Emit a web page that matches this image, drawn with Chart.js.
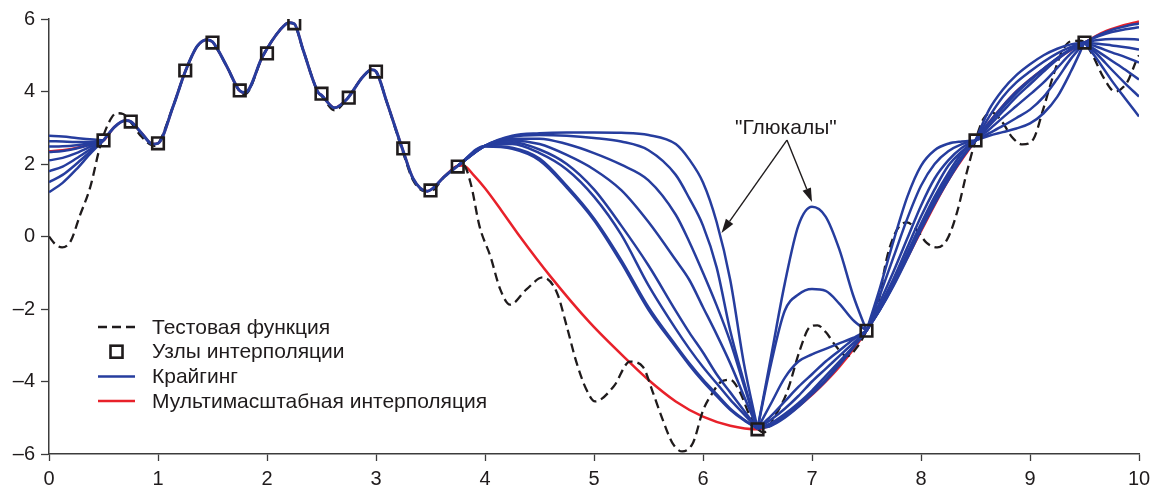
<!DOCTYPE html>
<html>
<head>
<meta charset="utf-8">
<script src="https://cdn.jsdelivr.net/npm/chart.js@4.4.1/dist/chart.umd.min.js"></script>
<style>
  html, body { margin: 0; padding: 0; background: #fff; }
  #wrap { width: 1157px; height: 492px; }
</style>
</head>
<body>
<div id="wrap"><canvas id="c" width="1157" height="492"></canvas></div>
<script>
// axis ticks
const xTicks = [0, 1, 2, 3, 4, 5, 6, 7, 8, 9, 10];
const yTicks = [-6, -4, -2, 0, 2, 4, 6];

const legendLabels = ['Тестовая функция', 'Узлы интерполяции', 'Крайгинг', 'Мультимасштабная интерполяция'];
const glitchText = '"Глюкалы"';
const glitchFrom = [6.77, 2.66];
const glitchTips = [[6.17, 0.1], [7.0, 0.95]];
const glitchLabelAt = [6.76, 3.0];

// interpolation nodes
const nodeX = [0.5, 0.75, 1.0, 1.25, 1.5, 1.75, 2.0, 2.25, 2.5, 2.75, 3.0, 3.25, 3.5, 3.75, 6.5, 7.5, 8.5, 9.5];
const nodeY = [2.65, 3.17, 2.57, 4.58, 5.35, 4.03, 5.05, 5.88, 3.94, 3.83, 4.55, 2.43, 1.27, 1.93, -5.32, -2.6, 2.65, 5.35];

// test function (dashed)
const testX = [0, 0.06, 0.12, 0.2, 0.28, 0.38, 0.47, 0.55, 0.62, 0.68, 0.75, 0.85, 0.97, 1.0, 1.14, 1.25, 1.36, 1.45, 1.5, 1.63,
  1.75, 1.8, 1.96, 2.12, 2.2, 2.25, 2.33, 2.47, 2.5, 2.62, 2.73, 2.88, 2.96, 3.0, 3.1, 3.25, 3.34, 3.45, 3.5, 3.63,
  3.75, 3.8, 3.87, 3.95, 4.05, 4.14, 4.23, 4.38, 4.53, 4.66, 4.75, 4.84, 4.93, 5.01, 5.18, 5.33, 5.45, 5.54, 5.63, 5.72,
  5.81, 5.91, 6.0, 6.09, 6.16, 6.25, 6.34, 6.43, 6.5, 6.56, 6.65, 6.77, 6.89, 6.98, 7.05, 7.13, 7.22, 7.32, 7.42, 7.5,
  7.6, 7.69, 7.78, 7.87, 7.96, 8.05, 8.15, 8.24, 8.33, 8.42, 8.5, 8.57, 8.65, 8.75, 8.83, 8.93, 9.03, 9.12, 9.21, 9.29,
  9.37, 9.45, 9.5, 9.58, 9.67, 9.78, 9.89, 9.98, 10];
const testY = [0, -0.22, -0.3, -0.12, 0.55, 1.38, 2.5, 3.15, 3.4, 3.38, 3.15, 2.75, 2.5, 2.55, 3.6, 4.55, 5.25, 5.43, 5.35, 4.7,
  4.0, 3.93, 4.97, 5.7, 5.9, 5.85, 5.16, 3.97, 3.88, 3.48, 3.78, 4.41, 4.6, 4.55, 3.7, 2.3, 1.55, 1.25, 1.25, 1.66,
  1.95, 1.98, 1.45, 0.28, -0.55, -1.46, -1.88, -1.46, -1.13, -1.55, -2.48, -3.48, -4.22, -4.55, -4.14, -3.45, -3.6, -4.3, -5.05, -5.7,
  -5.93, -5.68, -4.8, -4.3, -4.02, -3.95, -4.3, -4.95, -5.3, -5.4, -5.0, -4.3, -3.12, -2.5, -2.45, -2.65, -3.03, -3.3, -3.03, -2.6,
  -1.93, -0.55, 0.19, 0.39, 0.19, -0.17, -0.3, -0.08, 0.66, 1.77, 2.65, 3.23, 3.42, 3.14, 2.76, 2.54, 2.68, 3.5, 4.41, 5.08,
  5.38, 5.4, 5.35, 4.97, 4.41, 4.0, 4.25, 4.88, 5.0];

// kriging: part shared by all curves
const krigCommonX = [0.5, 0.6, 0.7, 0.75, 0.85, 0.95, 1.0, 1.14, 1.25, 1.36, 1.45, 1.5, 1.63, 1.75, 1.8, 1.96, 2.12, 2.2, 2.25, 2.33,
  2.47, 2.5, 2.62, 2.73, 2.88, 2.96, 3.0, 3.1, 3.25, 3.34, 3.47, 3.63, 3.75];
const krigCommon = [2.65, 3.02, 3.2, 3.17, 2.85, 2.55, 2.57, 3.6, 4.55, 5.25, 5.43, 5.37, 4.7, 4.02, 3.97, 4.97, 5.7, 5.9, 5.87, 5.16,
  3.97, 3.9, 3.55, 3.78, 4.41, 4.6, 4.55, 3.7, 2.35, 1.6, 1.25, 1.66, 1.95];

// kriging: 8 curves, piece by piece between nodes
const krigLeftX = [0, 0.125, 0.25, 0.375, 0.5];
const krigLeft = [
  [1.22, 1.48, 1.85, 2.27, 2.65],
  [1.5, 1.7, 2.0, 2.33, 2.65],
  [1.8, 1.93, 2.15, 2.4, 2.65],
  [2.1, 2.17, 2.3, 2.47, 2.65],
  [2.78, 2.76, 2.72, 2.68, 2.65],
  [2.63, 2.62, 2.61, 2.61, 2.65],
  [2.48, 2.49, 2.52, 2.57, 2.65],
  [2.33, 2.36, 2.43, 2.53, 2.65]
];
const krigGap1X = [3.75, 4.0, 4.25, 4.5, 4.75, 5.0, 5.25, 5.5, 5.75, 5.875, 6.0, 6.125, 6.25, 6.375, 6.5];
const krigGap1 = [
  [1.95, 2.5, 2.78, 2.85, 2.87, 2.87, 2.86, 2.8, 2.55, 2.12, 1.49, 0.4, -1.2, -3.5, -5.3],
  [1.95, 2.5, 2.75, 2.8, 2.78, 2.72, 2.62, 2.38, 1.7, 1.05, 0.3, -0.85, -2.6, -4.0, -5.3],
  [1.95, 2.5, 2.7, 2.7, 2.55, 2.3, 1.98, 1.55, 0.6, -0.15, -1.0, -1.9, -2.9, -4.1, -5.3],
  [1.95, 2.5, 2.65, 2.55, 2.25, 1.85, 1.28, 0.4, -0.65, -1.2, -1.95, -2.7, -3.5, -4.4, -5.3],
  [1.95, 2.5, 2.6, 2.4, 2.0, 1.3, 0.3, -0.8, -2.05, -2.65, -3.2, -3.8, -4.3, -4.8, -5.3],
  [1.95, 2.5, 2.55, 2.3, 1.85, 1.1, 0.05, -1.35, -2.55, -3.1, -3.6, -4.05, -4.5, -4.9, -5.3],
  [1.95, 2.5, 2.45, 2.15, 1.4, 0.5, -0.65, -1.95, -3.0, -3.5, -3.95, -4.35, -4.75, -5.05, -5.3],
  [1.95, 2.48, 2.42, 2.1, 1.35, 0.45, -0.72, -2.02, -3.05, -3.55, -4.0, -4.4, -4.78, -5.07, -5.3]
];
const krigGap2X = [6.5, 6.625, 6.75, 6.875, 7.0, 7.125, 7.25, 7.375, 7.5];
const krigGap2 = [
  [-5.3, -3.3, -1.3, 0.3, 0.82, 0.55, -0.35, -1.6, -2.6],
  [-5.3, -3.5, -2.05, -1.6, -1.45, -1.5, -1.85, -2.3, -2.6],
  [-5.3, -4.6, -3.9, -3.45, -3.25, -3.1, -2.95, -2.8, -2.6],
  [-5.3, -4.95, -4.55, -4.15, -3.8, -3.45, -3.15, -2.85, -2.6],
  [-5.3, -5.05, -4.75, -4.4, -4.0, -3.65, -3.3, -2.95, -2.6],
  [-5.3, -5.15, -4.9, -4.6, -4.25, -3.85, -3.45, -3.05, -2.6],
  [-5.3, -5.2, -4.95, -4.65, -4.3, -3.95, -3.5, -3.05, -2.6],
  [-5.3, -5.22, -5.0, -4.7, -4.35, -3.98, -3.55, -3.08, -2.6]
];
const krigGap3X = [7.5, 7.625, 7.75, 7.875, 8.0, 8.125, 8.25, 8.375, 8.5];
const krigGap3 = [
  [-2.6, -1.4, -0.1, 1.1, 1.95, 2.38, 2.56, 2.62, 2.65],
  [-2.6, -1.6, -0.55, 0.5, 1.4, 2.0, 2.35, 2.55, 2.65],
  [-2.6, -1.8, -0.95, -0.05, 0.85, 1.6, 2.1, 2.45, 2.65],
  [-2.6, -1.9, -1.15, -0.3, 0.55, 1.3, 1.95, 2.35, 2.65],
  [-2.6, -1.95, -1.25, -0.45, 0.35, 1.1, 1.75, 2.3, 2.65],
  [-2.6, -2.0, -1.3, -0.5, 0.28, 1.0, 1.65, 2.2, 2.65],
  [-2.6, -2.0, -1.32, -0.55, 0.22, 0.95, 1.6, 2.18, 2.65],
  [-2.6, -2.02, -1.35, -0.6, 0.18, 0.9, 1.55, 2.15, 2.65]
];
const krigGap4X = [8.5, 8.625, 8.75, 8.875, 9.0, 9.125, 9.25, 9.375, 9.5];
const krigGap4 = [
  [2.65, 2.78, 2.88, 2.98, 3.12, 3.4, 3.85, 4.55, 5.35],
  [2.65, 2.85, 3.05, 3.27, 3.5, 3.85, 4.35, 4.9, 5.35],
  [2.65, 2.95, 3.28, 3.6, 3.92, 4.25, 4.65, 5.05, 5.35],
  [2.65, 3.05, 3.45, 3.85, 4.2, 4.55, 4.88, 5.15, 5.35],
  [2.65, 3.12, 3.55, 3.95, 4.3, 4.62, 4.92, 5.17, 5.35],
  [2.65, 3.15, 3.6, 4.0, 4.33, 4.63, 4.92, 5.17, 5.35],
  [2.65, 3.3, 3.85, 4.25, 4.55, 4.82, 5.05, 5.23, 5.35],
  [2.65, 3.5, 4.05, 4.45, 4.75, 5.0, 5.18, 5.3, 5.35]
];
const krigRightX = [9.5, 9.625, 9.75, 9.875, 10];
const krigRight = [
  [5.35, 4.85, 4.3, 3.8, 3.31],
  [5.35, 5.0, 4.6, 4.22, 3.86],
  [5.35, 5.1, 4.85, 4.6, 4.33],
  [5.35, 5.22, 5.08, 4.95, 4.8],
  [5.35, 5.32, 5.27, 5.22, 5.16],
  [5.35, 5.42, 5.45, 5.45, 5.43],
  [5.35, 5.52, 5.64, 5.72, 5.77],
  [5.35, 5.55, 5.7, 5.8, 5.88]
];

// multiscale interpolation (red); middle part is krigCommon
const multiLeftX = [0, 0.125, 0.25, 0.375];
const multiLeft = [2.35, 2.38, 2.44, 2.54];
const multiRightX = [3.8, 3.9, 4.0, 4.15, 4.32, 4.6, 4.96, 5.33, 5.49, 5.75, 6.0, 6.25, 6.5, 6.71, 6.95, 7.07, 7.25, 7.5,
  7.75, 8.0, 8.25, 8.5, 8.625, 8.75, 8.875, 9.0, 9.125, 9.25, 9.375, 9.5, 9.67, 9.83, 10];
const multiRight = [1.96, 1.68, 1.33, 0.72, 0.0, -1.1, -2.37, -3.48, -3.93, -4.55, -4.97, -5.22, -5.32, -5.05, -4.5, -4.17, -3.6, -2.6,
  -1.3, 0.15, 1.55, 2.65, 3.15, 3.6, 4.0, 4.33, 4.62, 4.9, 5.15, 5.35, 5.63, 5.8, 5.93];

const BLUE = '#263d9e';
const RED = '#e8212a';
const INK = '#1f1b1c';
const FONT = '"Liberation Sans", Arial, sans-serif';

const pts = (xs, ys) => xs.map((x, i) => ({ x: x, y: ys[i] }));

function line(data, color, width, order, dash) {
  return {
    data: data, showLine: true, borderColor: color, borderWidth: width,
    borderDash: dash || [], pointRadius: 0, pointHoverRadius: 0,
    cubicInterpolationMode: 'monotone', order: order, fill: false
  };
}

const datasets = [];
datasets.push({
  data: pts(nodeX, nodeY), showLine: false, pointStyle: 'rect', pointRadius: 8.2,
  borderColor: INK, borderWidth: 2.6, backgroundColor: 'rgba(0,0,0,0)', order: 0
});
const pieces = [[krigLeftX, krigLeft], [krigGap1X, krigGap1], [krigGap2X, krigGap2],
  [krigGap3X, krigGap3], [krigGap4X, krigGap4], [krigRightX, krigRight]];
pieces.forEach(([xs, curves]) => {
  curves.forEach(ys => datasets.push(line(pts(xs, ys), BLUE, 2.5, 1)));
});
datasets.push(line(pts(krigCommonX, krigCommon), BLUE, 3, 1));
datasets.push(line(pts(testX, testY), INK, 2.3, 2, [9, 5]));
datasets.push(line(pts([...multiLeftX, ...krigCommonX, ...multiRightX], [...multiLeft, ...krigCommon, ...multiRight]), RED, 2.5, 3));

function arrow(ctx, x1, y1, x2, y2) {
  const ang = Math.atan2(y2 - y1, x2 - x1);
  const len = 14, half = 4.5;
  const bx = x2 - len * Math.cos(ang), by = y2 - len * Math.sin(ang);
  ctx.beginPath();
  ctx.moveTo(x1, y1);
  ctx.lineTo(bx, by);
  ctx.stroke();
  ctx.beginPath();
  ctx.moveTo(x2, y2);
  ctx.lineTo(bx - half * Math.sin(ang), by + half * Math.cos(ang));
  ctx.lineTo(bx + half * Math.sin(ang), by - half * Math.cos(ang));
  ctx.closePath();
  ctx.fill();
}

const overlay = {
  id: 'overlay',
  afterDraw(chart) {
    const { ctx, chartArea: a, scales: { x, y } } = chart;
    ctx.save();
    // legend
    ctx.font = '21px ' + FONT;
    ctx.textBaseline = 'middle';
    ctx.textAlign = 'left';
    const l0 = a.left + 49, l1 = a.left + 86, tx = a.left + 103;
    legendLabels.forEach((label, i) => {
      const ly = a.top + 308 + i * 24.7;
      ctx.setLineDash([]);
      if (i === 0) {
        ctx.strokeStyle = INK; ctx.lineWidth = 2.3; ctx.setLineDash([9, 5]);
        ctx.beginPath(); ctx.moveTo(l0, ly); ctx.lineTo(l1, ly); ctx.stroke();
        ctx.setLineDash([]);
      } else if (i === 1) {
        ctx.strokeStyle = INK; ctx.lineWidth = 2.6;
        ctx.strokeRect((l0 + l1) / 2 - 6, ly - 6, 12, 12);
      } else {
        ctx.strokeStyle = i === 2 ? BLUE : RED; ctx.lineWidth = 2.5;
        ctx.beginPath(); ctx.moveTo(l0, ly); ctx.lineTo(l1, ly); ctx.stroke();
      }
      ctx.fillStyle = INK;
      ctx.fillText(label, tx, ly + 1);
    });
    // "Глюкалы" annotation
    ctx.textAlign = 'center';
    ctx.fillText(glitchText, x.getPixelForValue(glitchLabelAt[0]), y.getPixelForValue(glitchLabelAt[1]));
    ctx.strokeStyle = INK; ctx.fillStyle = INK; ctx.lineWidth = 1.4;
    const sx = x.getPixelForValue(glitchFrom[0]), sy = y.getPixelForValue(glitchFrom[1]);
    glitchTips.forEach(t => arrow(ctx, sx, sy, x.getPixelForValue(t[0]), y.getPixelForValue(t[1])));
    ctx.restore();
  }
};

const axisColor = '#3c3c3c';
new Chart(document.getElementById('c'), {
  type: 'scatter',
  data: { datasets: datasets },
  options: {
    responsive: false,
    animation: false,
    devicePixelRatio: 1,
    layout: { padding: { top: 19, right: 18, left: 0, bottom: 0 } },
    plugins: { legend: { display: false }, tooltip: { enabled: false } },
    events: [],
    scales: {
      x: {
        type: 'linear', min: 0, max: 10,
        afterBuildTicks: s => { s.ticks = xTicks.map(v => ({ value: v })); },
        afterFit: s => { s.height = 38; },
        grid: { drawOnChartArea: false, drawTicks: true, tickLength: 7, tickColor: axisColor, tickWidth: 1.3 },
        border: { display: true, color: axisColor, width: 1.5 },
        ticks: { color: INK, font: { size: 20, family: FONT }, padding: 6, maxRotation: 0 }
      },
      y: {
        type: 'linear', min: -6, max: 6,
        afterBuildTicks: s => { s.ticks = yTicks.map(v => ({ value: v })); },
        afterFit: s => { s.width = 49; },
        grid: { drawOnChartArea: false, drawTicks: true, tickLength: 8, tickColor: axisColor, tickWidth: 1.3 },
        border: { display: true, color: axisColor, width: 1.5 },
        ticks: {
          color: INK, font: { size: 20, family: FONT }, padding: 6,
          callback: v => (v < 0 ? '\u2013' + Math.abs(v) : String(v))
        }
      }
    }
  },
  plugins: [overlay]
});
</script>
</body>
</html>
